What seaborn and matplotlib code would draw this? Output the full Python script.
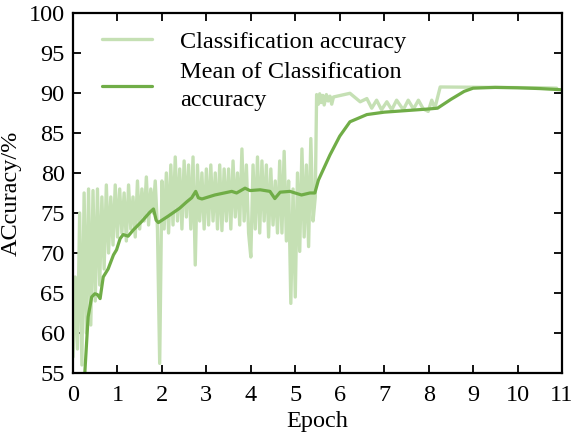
import numpy as np
import pandas as pd
import seaborn as sns
import matplotlib
matplotlib.use("Agg")
import matplotlib.pyplot as plt

# raw accuracy, epochs 0 - 5.4 sampled every 0.05 epoch
step = 0.05
acc_early = [
    57, 67, 58, 75, 56, 77.5, 60, 78, 61, 77.8, 64, 78, 66, 77, 68, 78.5, 70, 77, 71, 78.5,
    72, 78, 72.5, 77.5, 71.5, 78.5, 73, 77, 72, 79, 73, 78, 74, 79.5, 73.5, 78, 75, 79, 73, 56.2,
    79, 73, 80, 72.5, 81, 73.5, 82, 74, 80.5, 73, 81.5, 74.5, 81, 73, 82, 68.5, 81, 74, 80, 73,
    80.5, 73.5, 81, 74, 80, 73, 81, 72.8, 80.5, 74, 80.5, 73, 81.5, 74.5, 80, 73.5, 83, 74, 81, 72.5,
    69.5, 81, 73, 82, 72.5, 81.5, 74, 81, 72, 80.5, 73.5, 79, 72.5, 81.5, 72.5, 82.7, 71.5, 79, 63.7, 78,
    64.5, 80, 70.2, 83, 72, 81, 70.8, 84.3, 74,
]

# raw accuracy after the jump
epoch_late = [5.45, 5.48, 5.52, 5.55, 5.58, 5.62, 5.65, 5.70, 5.74, 5.78, 5.82, 5.86,
              6.23, 6.46, 6.61, 6.72, 6.83, 6.94, 7.06, 7.17, 7.28, 7.43, 7.54, 7.66,
              7.77, 7.88, 7.99, 8.07, 8.14, 8.26, 9.5, 10.5, 10.88]
acc_late = [77, 89.8, 88.6, 89.9, 88.8, 89.7, 88.5, 89.8, 89.0, 89.6, 88.6, 89.5,
            89.96, 88.9, 89.3, 88.1, 89.1, 87.9, 88.9, 87.9, 89.1, 87.9, 89.1, 88.0,
            89.1, 88.0, 87.7, 89.1, 88.1, 90.75, 90.7, 90.65, 90.6]

# smoothed (mean) accuracy
epoch_mean = [0.25, 0.27, 0.34, 0.42, 0.49, 0.55, 0.61, 0.68, 0.79, 0.91, 0.98, 1.06,
              1.13, 1.24, 1.36, 1.54, 1.73, 1.81, 1.87, 1.92, 2.14, 2.40, 2.56, 2.67,
              2.76, 2.82, 2.90, 3.19, 3.57, 3.68, 3.87, 3.98, 4.21, 4.43, 4.54, 4.66,
              4.88, 5.14, 5.33, 5.44, 5.52, 5.78, 6.0, 6.23, 6.61, 7.0, 7.5, 8.0,
              8.2, 8.5, 8.8, 9.0, 9.5, 10.0, 10.5, 11.0]
acc_mean = [53, 55.4, 62, 64.5, 64.9, 64.8, 64.3, 67, 68, 69.75, 70.4, 71.8,
            72.3, 72.1, 72.9, 73.9, 75.1, 75.5, 74.1, 73.8, 74.6, 75.6, 76.4, 76.9,
            77.7, 76.9, 76.75, 77.25, 77.7, 77.5, 78.1, 77.8, 77.9, 77.7, 76.8, 77.6,
            77.7, 77.25, 77.5, 77.5, 79.1, 82.25, 84.6, 86.4, 87.3, 87.6, 87.8, 88.0,
            88.1, 89.2, 90.2, 90.6, 90.7, 90.65, 90.55, 90.4]

epoch_raw = list(np.arange(len(acc_early)) * step) + epoch_late
acc_raw = acc_early + acc_late

raw = pd.DataFrame({"epoch": epoch_raw, "acc": acc_raw})
mean = pd.DataFrame({"epoch": epoch_mean, "acc": acc_mean})

sns.set_style("ticks")
plt.rcParams["font.family"] = "serif"
plt.rcParams["font.serif"] = ["Liberation Serif", "Times New Roman", "DejaVu Serif"]
for key in ["text.color", "axes.labelcolor", "xtick.color", "ytick.color", "axes.edgecolor"]:
    plt.rcParams[key] = "black"

fig = plt.figure(figsize=(5.73, 4.37), dpi=100)
ax = fig.add_axes([0.1274, 0.1465, 0.8534, 0.8238])

sns.lineplot(data=raw, x="epoch", y="acc", ax=ax, color="#c5e0b4", lw=2.4,
             estimator=None, sort=False, label="Classification accuracy")
sns.lineplot(data=mean, x="epoch", y="acc", ax=ax, color="#70ad47", lw=2.3,
             estimator=None, sort=False, label="Mean of Classification\naccuracy")

fs = 17.5
ax.set_xlim(0, 11)
ax.set_ylim(55, 100)
ax.set_xticks(range(0, 12))
ax.set_yticks(range(55, 101, 5))
ax.tick_params(direction="in", length=6, width=1.3, top=True, right=True,
               labelsize=fs)
ax.tick_params(axis="x", pad=9)
ax.tick_params(axis="y", pad=6)
for s in ax.spines.values():
    s.set_linewidth(1.6)
ax.set_xlabel("Epoch", fontsize=fs, labelpad=3)
ax.set_ylabel("ACcuracy/%", fontsize=fs, labelpad=5)

leg = ax.legend(loc="upper left", bbox_to_anchor=(0.015, 1.012), frameon=False,
                fontsize=fs, handlelength=2.05, handletextpad=1.15, labelspacing=0.4)
for t in leg.get_texts():
    t.set_linespacing(1.4)

fig.savefig("out.png", dpi=100)
